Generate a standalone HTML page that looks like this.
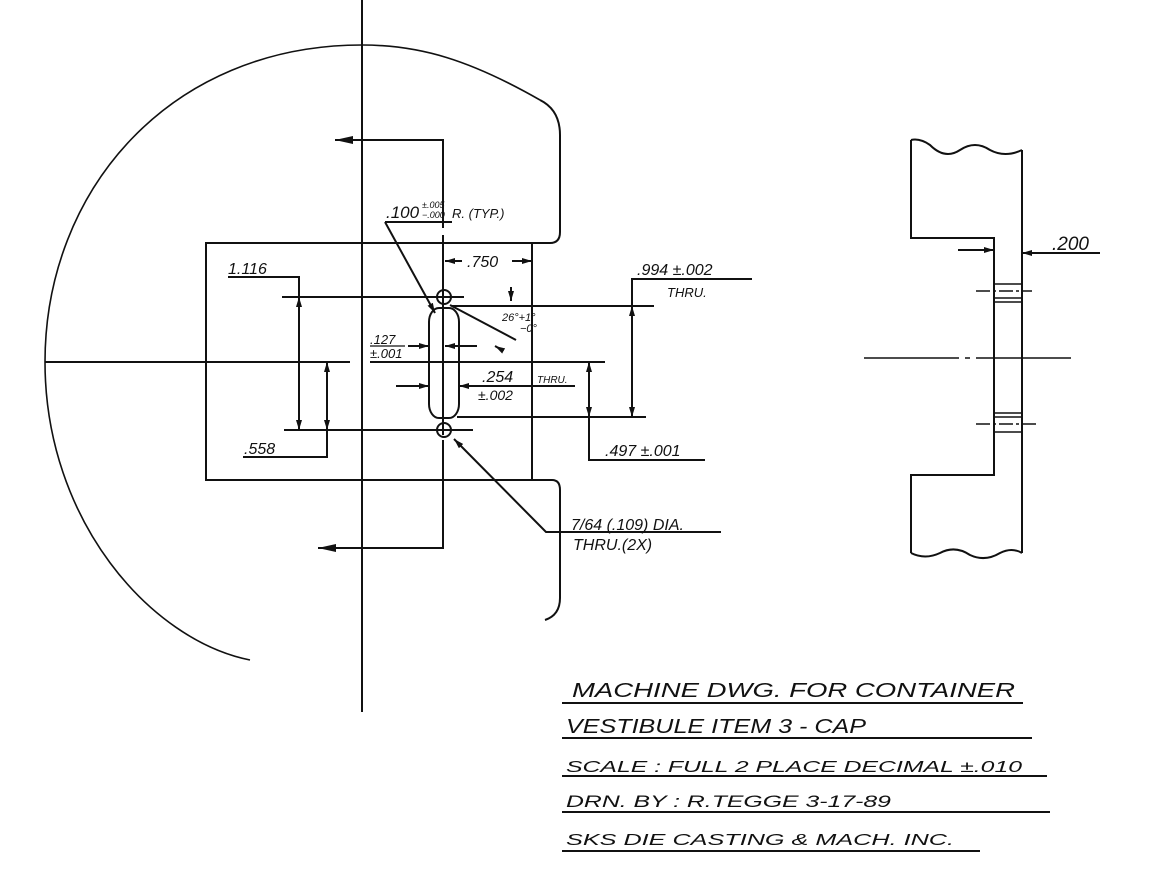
<!DOCTYPE html>
<html><head><meta charset="utf-8"><style>
html,body{margin:0;padding:0;background:#fff;}
svg{display:block;}
text{font-family:"Liberation Sans",sans-serif;font-style:italic;fill:#111;}
</style></head><body>
<svg width="1150" height="870" viewBox="0 0 1150 870" xmlns="http://www.w3.org/2000/svg">
<defs>
<marker id="a" viewBox="0 0 10 6" refX="10" refY="3" markerWidth="10" markerHeight="6" markerUnits="userSpaceOnUse" orient="auto-start-reverse"><path d="M0,0 L10,3 L0,6 z" fill="#111"/></marker>
<marker id="b" viewBox="0 0 18 8" refX="18" refY="4" markerWidth="18" markerHeight="8" markerUnits="userSpaceOnUse" orient="auto"><path d="M0,0 L18,4 L0,8 z" fill="#111"/></marker>
</defs>
<g stroke="#111" stroke-width="2" fill="none">
<path d="M540,100 C470,60 420,45 362,45 C170,45 45,190 45,362 C45,520 150,640 250,660" stroke-width="1.6"/>
<path d="M540,100 Q560,110 560,135 L560,232 Q560,243 550,243 L206,243 L206,480 L552,480 Q560,480 560,490 L560,598 Q560,615 545,620"/>
<line x1="532" y1="243" x2="532" y2="480"/>
<line x1="362" y1="0" x2="362" y2="712"/>
<line x1="45" y1="362" x2="350" y2="362"/>
<line x1="370" y1="362" x2="605" y2="362"/>
<line x1="362" y1="356" x2="362" y2="368"/>
<path d="M443,228 L443,140 L335,140" marker-end="url(#b)"/>
<path d="M443,440 L443,548 L318,548" marker-end="url(#b)"/>
<line x1="443" y1="235" x2="443" y2="435"/>
<rect x="429" y="308" width="30" height="110" rx="10" ry="14"/>
<circle cx="444" cy="297" r="7"/>
<circle cx="444" cy="430" r="7"/>
<line x1="282" y1="297" x2="464" y2="297"/>
<line x1="452" y1="306" x2="654" y2="306"/>
<line x1="457" y1="417" x2="646" y2="417"/>
<line x1="284" y1="430" x2="473" y2="430"/>
<polyline points="228,277 299,277 299,297"/>
<line x1="299" y1="297" x2="299" y2="430" marker-start="url(#a)" marker-end="url(#a)"/>
<polyline points="243,457 327,457 327,430"/>
<line x1="327" y1="362" x2="327" y2="430" marker-start="url(#a)" marker-end="url(#a)"/>
<line x1="462" y1="261" x2="445" y2="261" marker-end="url(#a)"/>
<line x1="512" y1="261" x2="532" y2="261" marker-end="url(#a)"/>
<polyline points="752,279 632,279 632,306"/>
<line x1="632" y1="306" x2="632" y2="417" marker-start="url(#a)" marker-end="url(#a)"/>
<polyline points="705,460 589,460 589,417"/>
<line x1="589" y1="362" x2="589" y2="417" marker-start="url(#a)" marker-end="url(#a)"/>
<line x1="396" y1="386" x2="429" y2="386" marker-end="url(#a)"/>
<line x1="575" y1="386" x2="459" y2="386" marker-end="url(#a)"/>
<line x1="370" y1="346" x2="405" y2="346" stroke-width="1.2"/>
<line x1="408" y1="346" x2="429" y2="346" marker-end="url(#a)"/>
<line x1="477" y1="346" x2="445" y2="346" marker-end="url(#a)"/>
<line x1="385" y1="222" x2="452" y2="222"/>
<line x1="385" y1="222" x2="435" y2="313" marker-end="url(#a)"/>
<line x1="450" y1="305" x2="516" y2="340"/>
<line x1="511" y1="287" x2="511" y2="301" marker-end="url(#a)"/>
<line x1="502" y1="350" x2="495" y2="346" marker-end="url(#a)"/>
<polyline points="721,532 546,532 454,439" marker-end="url(#a)"/>
<path d="M911,140 L911,238 L994,238 L994,475 L911,475 L911,553"/>
<line x1="1022" y1="150" x2="1022" y2="553"/>
<path d="M911,140 Q920,138 930,145 Q945,160 960,150 Q975,140 990,150 Q1005,158 1022,150"/>
<path d="M911,553 Q925,560 940,553 Q955,545 970,555 Q985,562 1000,553 Q1012,547 1022,553"/>
<g stroke-width="1.4">
<line x1="994" y1="284" x2="1022" y2="284"/>
<line x1="994" y1="298" x2="1022" y2="298"/>
<line x1="994" y1="302" x2="1022" y2="302"/>
<line x1="994" y1="413" x2="1022" y2="413"/>
<line x1="994" y1="417" x2="1022" y2="417"/>
<line x1="994" y1="432" x2="1022" y2="432"/>
<line x1="976" y1="291" x2="1032" y2="291" stroke-dasharray="14,3,3,3"/>
<line x1="976" y1="424" x2="1036" y2="424" stroke-dasharray="14,3,3,3"/>
<line x1="864" y1="358" x2="1077" y2="358" stroke-dasharray="95,6,5,6"/>
</g>
<line x1="958" y1="250" x2="994" y2="250" marker-end="url(#a)"/>
<polyline points="1100,253 1050,253 1022,253" marker-end="url(#a)"/>
<line x1="562" y1="703" x2="1023" y2="703"/>
<line x1="562" y1="738" x2="1032" y2="738"/>
<line x1="562" y1="776" x2="1047" y2="776"/>
<line x1="562" y1="812" x2="1050" y2="812"/>
<line x1="562" y1="851" x2="980" y2="851"/>
</g>
<g font-size="16">
<text x="228" y="274">1.116</text>
<text x="244" y="454">.558</text>
<text x="467" y="267">.750</text>
<text x="386" y="218" font-size="17">.100</text>
<text x="422" y="208" font-size="9">±.005</text>
<text x="422" y="218" font-size="9">−.000</text>
<text x="452" y="218" font-size="13">R. (TYP.)</text>
<text x="637" y="275">.994 ±.002</text>
<text x="667" y="297" font-size="13">THRU.</text>
<text x="502" y="321" font-size="11">26°+1°</text>
<text x="520" y="332" font-size="11">−0°</text>
<text x="370" y="344" font-size="13">.127</text>
<text x="370" y="358" font-size="13">±.001</text>
<text x="482" y="382">.254</text>
<text x="537" y="383" font-size="10">THRU.</text>
<text x="478" y="400" font-size="14">±.002</text>
<text x="605" y="456">.497 ±.001</text>
<text x="571" y="530">7/64 (.109) DIA.</text>
<text x="573" y="550">THRU.(2X)</text>
<text x="1052" y="250" font-size="19">.200</text>
</g>
<g font-size="20">
<text x="572" y="697" textLength="443" lengthAdjust="spacingAndGlyphs">MACHINE  DWG. FOR  CONTAINER</text>
<text x="566" y="733" textLength="300" lengthAdjust="spacingAndGlyphs">VESTIBULE  ITEM  3 - CAP</text>
<text x="566" y="772" font-size="16" textLength="456" lengthAdjust="spacingAndGlyphs">SCALE : FULL   2 PLACE DECIMAL ±.010</text>
<text x="566" y="807" font-size="17" textLength="325" lengthAdjust="spacingAndGlyphs">DRN. BY : R.TEGGE    3-17-89</text>
<text x="566" y="845" font-size="16" font-style="normal" textLength="388" lengthAdjust="spacingAndGlyphs">SKS DIE CASTING &amp; MACH. INC.</text>
</g>
</svg>
</body></html>
